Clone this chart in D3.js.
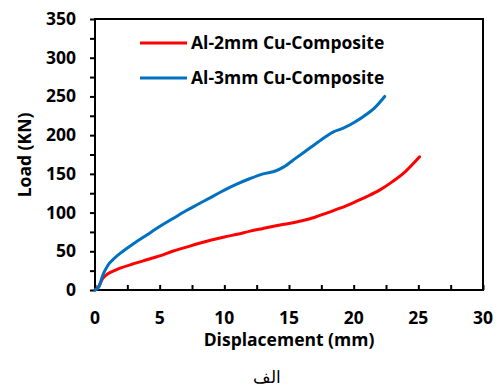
<!DOCTYPE html>
<html>
<head>
<meta charset="utf-8">
<script src="https://cdn.jsdelivr.net/npm/d3@7"></script>
<style>
  body { margin: 0; background: #fff; }
  text { font-family: "Open Sans", "Noto Sans", sans-serif; }
</style>
</head>
<body>
<div id="plot"></div>
<script>
// series names + colours
const seriesNames = ["Al-2mm Cu-Composite", "Al-3mm Cu-Composite"];
const seriesColors = ["#ff0000", "#0070c0"];

// displacement (mm) / load (KN)
const red = [[0,0],[0.3,5],[0.6,15],[1,21],[1.5,25],[2,28.5],[3,34],[4,39],[5,44],[6,50],[7,55],[8,60],[9,64.5],[10,68.5],[11,72],[12,76],[13,79.5],[14,83],[15,86],[16,89.5],[17,94],[18,100],[19,106],[20,113],[21,120.5],[22,129],[23,140],[24,153],[25.1,172]];
const blue = [[0,0],[0.3,4],[0.6,19],[1,32],[1.5,41],[2,48],[3,60],[4,71],[5,82],[6,92],[7,102],[8,111],[9,120],[10,129],[11,137],[12,144],[13,150],[14,154],[14.6,159],[15.5,170],[16.5,182],[17.5,194],[18.4,204],[19.2,209],[20,216],[21,227],[21.6,235],[22.4,250]];

const xTicks = [0, 5, 10, 15, 20, 25, 30];
const yTicks = [0, 50, 100, 150, 200, 250, 300, 350];

const width = 502, height = 390;
const margin = { top: 19, right: 19, bottom: 100, left: 95 };
const fs = 17.5;

const svg = d3.select("div#plot")
    .append("svg")
    .attr("width", width)
    .attr("height", height);

const xScale = d3.scaleLinear().domain([0, 30]).range([margin.left, width - margin.right]);
const yScale = d3.scaleLinear().domain([0, 350]).range([height - margin.bottom, margin.top]);

// minor ticks - x inward every 2.5, y outward every 25
const xAxis = d3.axisTop(xScale).tickValues(d3.range(0, 30.1, 2.5)).tickSize(5).tickFormat("");
const yAxis = d3.axisLeft(yScale).tickValues(d3.range(0, 351, 25)).tickSize(5).tickFormat("");

svg.append("g")
    .attr("transform", `translate(0,${yScale(0)})`)
    .call(xAxis)
    .call(g => g.selectAll("line").attr("stroke", "#000").attr("stroke-width", 2))
    .call(g => g.select(".domain").remove());

svg.append("g")
    .attr("transform", `translate(${xScale(0)},0)`)
    .call(yAxis)
    .call(g => g.selectAll("line").attr("stroke", "#000").attr("stroke-width", 2))
    .call(g => g.select(".domain").remove());

// frame
svg.append("rect")
    .attr("x", xScale(0))
    .attr("y", yScale(350))
    .attr("width", xScale(30) - xScale(0))
    .attr("height", yScale(0) - yScale(350))
    .attr("fill", "none")
    .attr("stroke", "#000")
    .attr("stroke-width", 2);

// tick labels
svg.selectAll("text.xlab")
    .data(xTicks)
    .enter().append("text")
    .attr("class", "xlab")
    .attr("x", d => xScale(d))
    .attr("y", yScale(0) + 34)
    .attr("text-anchor", "middle")
    .attr("font-size", fs)
    .attr("font-weight", "bold")
    .text(d => d);

svg.selectAll("text.ylab")
    .data(yTicks)
    .enter().append("text")
    .attr("class", "ylab")
    .attr("x", xScale(0) - 19)
    .attr("y", d => yScale(d) + 6)
    .attr("text-anchor", "end")
    .attr("font-size", fs)
    .attr("font-weight", "bold")
    .text(d => d);

// axis titles
svg.append("text")
    .attr("x", 289)
    .attr("y", 346)
    .attr("text-anchor", "middle")
    .attr("font-size", fs)
    .attr("font-weight", "bold")
    .text("Displacement (mm)");

svg.append("text")
    .attr("transform", "translate(31,155) rotate(-90)")
    .attr("text-anchor", "middle")
    .attr("font-size", fs)
    .attr("font-weight", "bold")
    .text("Load (KN)");

svg.append("text")
    .attr("x", 267)
    .attr("y", 383)
    .attr("text-anchor", "middle")
    .attr("font-size", 17)
    .text("الف");

// curves
const line = d3.line()
    .x(d => xScale(d[0]))
    .y(d => yScale(d[1]))
    .curve(d3.curveMonotoneX);

[red, blue].forEach((data, i) => {
    svg.append("path")
        .datum(data)
        .attr("d", line)
        .attr("fill", "none")
        .attr("stroke", seriesColors[i])
        .attr("stroke-width", 3)
        .attr("stroke-linecap", "round");
});

// legend
seriesNames.forEach((name, i) => {
    const ly = 43 + i * 35;
    svg.append("line")
        .attr("x1", 140).attr("x2", 187)
        .attr("y1", ly).attr("y2", ly)
        .attr("stroke", seriesColors[i])
        .attr("stroke-width", 3);
    svg.append("text")
        .attr("x", 191)
        .attr("y", ly + 6)
        .attr("font-size", fs)
        .attr("font-weight", "bold")
        .text(name);
});
</script>
</body>
</html>
